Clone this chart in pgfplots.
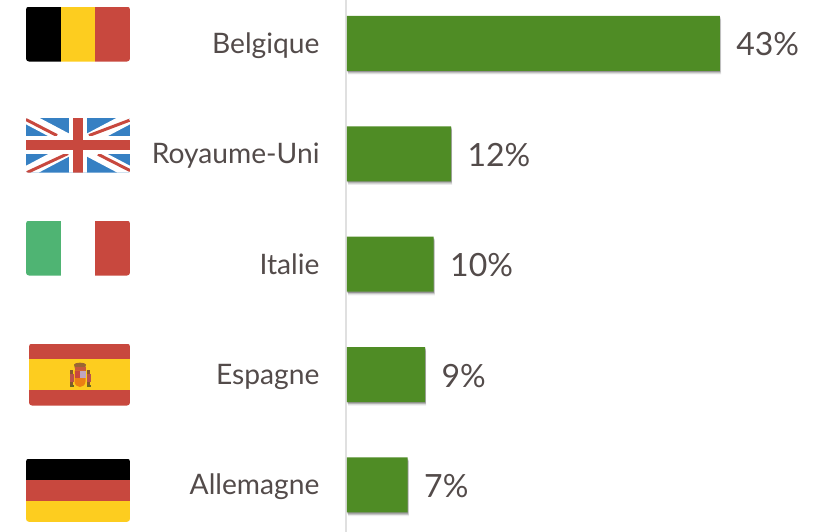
\documentclass[border=0pt]{standalone}
\usepackage{fontspec}
\setmainfont{Lato}
\usepackage{pgfplots}
\pgfplotsset{compat=1.18}
\usepackage{pgfplotstable}
\usetikzlibrary{shadows}
\definecolor{barg}{HTML}{4F8C25}
\definecolor{txt}{HTML}{534B4A}
\definecolor{fred}{HTML}{C8483E}
\definecolor{fyel}{HTML}{FDCD1F}
\definecolor{fblu}{HTML}{3680C3}
\definecolor{fgrn}{HTML}{4FB473}
\definecolor{axl}{HTML}{E0E0E0}
\pgfplotstableread{
y v
0 43
1 12
2 10
3 9
4 7
}\shares
\begin{document}
\begin{tikzpicture}[x=1pt,y=-1pt]
\useasboundingbox (0,0.45) rectangle (828,532.45);
% Flags
\begin{scope}
\clip[rounded corners=3pt] (26,7) rectangle (130,62);
\fill[black] (26,7) rectangle (60.6,62);
\fill[fyel] (60.6,7) rectangle (95.3,62);
\fill[fred] (95.3,7) rectangle (130,62);
\end{scope}
\begin{scope}
\clip[rounded corners=2pt] (26,118) rectangle (130,173);
\fill[fblu] (26,118) rectangle (130,173);
\draw[white,line width=12pt] (26,118) -- (130,173) (130,118) -- (26,173);
\draw[fred,line width=3pt] (26,120) -- (57,136) (129.5,120.7) -- (89,136) (27,173) -- (68,154) (98,154.7) -- (130,171);
\fill[white] (69,118) rectangle (87,173);
\fill[white] (26,136) rectangle (130,154);
\fill[fred] (72.7,118) rectangle (83.3,173);
\fill[fred] (26,140) rectangle (130,150.7);
\end{scope}
\begin{scope}
\clip[rounded corners=3pt] (26,221) rectangle (130,276);
\fill[fgrn] (26,221) rectangle (60.6,276);
\fill[fred] (95.3,221) rectangle (130,276);
\end{scope}
\begin{scope}
\clip[rounded corners=3pt] (29,344) rectangle (130,406);
\fill[fred] (29,344) rectangle (130,406);
\fill[fyel] (29,359.5) rectangle (130,390.5);
\end{scope}
% Spanish crest
\fill[brown!70!black] (70,370) rectangle (73,387);
\fill[brown!70!black] (87,370) rectangle (90,387);
\fill[fred!80!gray] (69.5,374) rectangle (73.5,382);
\fill[fred!80!gray] (86.5,374) rectangle (90.5,382);
\fill[olive!70!black] (69.5,385) rectangle (73.5,387.5);
\fill[olive!70!black] (86.5,385) rectangle (90.5,387.5);
\fill[brown!80!black] (74,365) .. controls (75,362.5) and (85,362.5) .. (86,365) -- (85,369) -- (75,369) -- cycle;
\fill[fred!70!brown] (74.5,367) rectangle (85.5,371);
\fill[orange!70!brown] (74.5,371) -- (85.5,371) -- (85.5,382) .. controls (85.5,386) and (82,387) .. (80,387.5) .. controls (78,387) and (74.5,386) .. (74.5,382) -- cycle;
\fill[fred] (74.5,371) rectangle (80,378);
\fill[gray!60!violet!50] (80,371) rectangle (85.5,378);
\begin{scope}
\clip[rounded corners=3pt] (26,459) rectangle (130,522.3);
\fill[black] (26,459) rectangle (130,480);
\fill[fred] (26,480) rectangle (130,501.2);
\fill[fyel] (26,501.2) rectangle (130,522.3);
\end{scope}
\begin{axis}[
  at={(347pt,-534pt)}, anchor=south west,
  scale only axis, width=481pt, height=534pt,
  xmin=0, xmax=55.48, ymin=-0.397, ymax=4.44, y dir=reverse,
  clip=false,
  axis x line=none,
  axis y line*=left,
  axis y line shift=0.8pt,
  y axis line style={draw=axl,line width=1.6pt,-},
  ytick={0,1,2,3,4},
  yticklabels={Belgique,Royaume-Uni,Italie,Espagne,Allemagne},
  major tick length=0pt,
  ytick style={draw=none},
  yticklabel style={anchor=east,font=\fontsize{28.2}{32}\selectfont,text=txt,yshift=-3.5pt},
  typeset ticklabels with strut,
  every y tick label/.append style={xshift=-23.2pt},
]
\addplot[
  xbar, bar width=55pt, bar shift=0pt, fill=barg, draw=none,
  preaction={fill=black,opacity=.08,transform canvas={xshift=1.2pt,yshift=-3.6pt}},
  preaction={fill=black,opacity=.16,transform canvas={xshift=.9pt,yshift=-2.4pt}},
  preaction={fill=black,opacity=.25,transform canvas={xshift=.5pt,yshift=-1.2pt}},
  point meta=x,
  nodes near coords={\pgfmathprintnumber[assume math mode=true]{\pgfplotspointmeta}\%},
  nodes near coords align=horizontal,
  every node near coord/.append style={font=\fontsize{32}{36}\selectfont,text=txt,anchor=west,xshift=13pt,yshift=-1pt},
] table[x=v,y=y] {\shares};
\end{axis}
\end{tikzpicture}
\end{document}
